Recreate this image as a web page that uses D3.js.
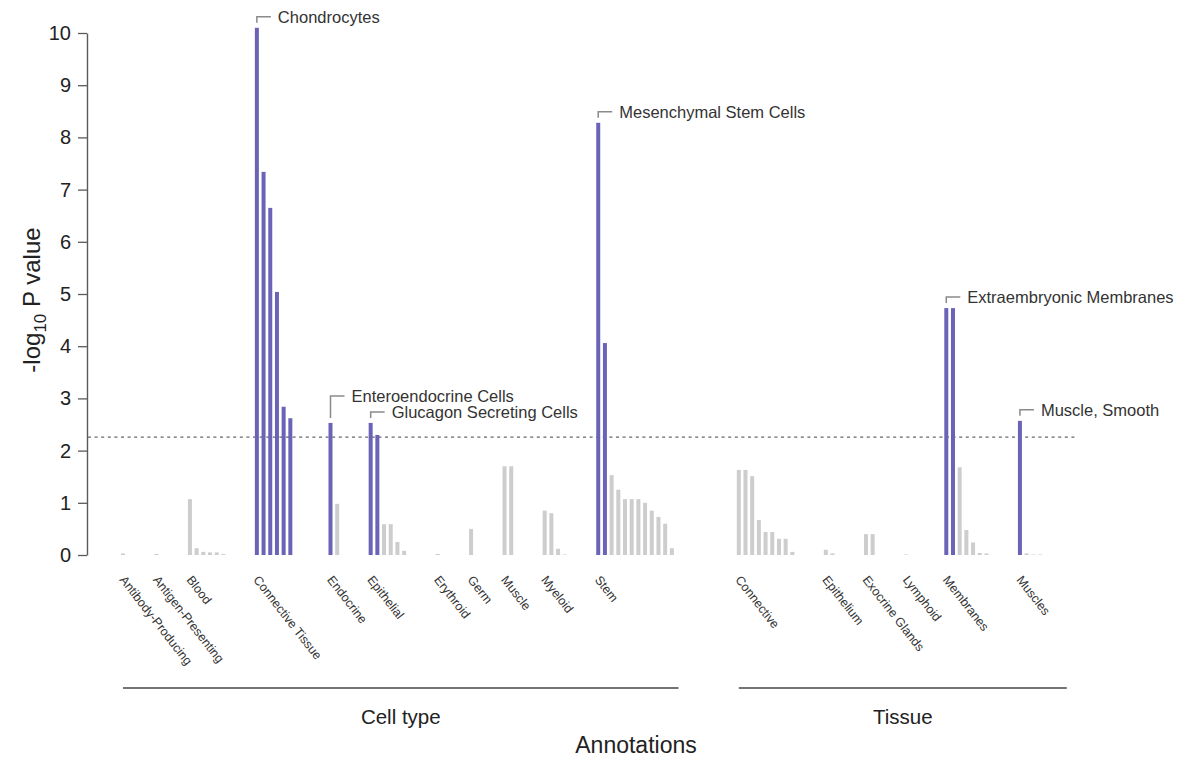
<!DOCTYPE html>
<html>
<head>
<meta charset="utf-8">
<script src="https://cdn.jsdelivr.net/npm/d3@7"></script>
<style>
  html, body { margin: 0; padding: 0; background: #fff; }
  svg { display: block; font-family: "Liberation Sans", Arial, Helvetica, sans-serif; }
</style>
</head>
<body>
<svg id="chart" width="1184" height="759"></svg>
<script>
// Enrichment of annotation terms, -log10 P per term, grouped by category
const cellTypeGroups = ["Antibody-Producing", "Antigen-Presenting", "Blood", "Connective Tissue",
  "Endocrine", "Epithelial", "Erythroid", "Germ", "Muscle", "Myeloid", "Stem"];
const cellTypeValues = [
  [0.03],
  [0.02],
  [1.07, 0.13, 0.06, 0.05, 0.05, 0.02],
  [10.1, 7.34, 6.65, 5.04, 2.84, 2.62, 0],
  [2.53, 0.98],
  [2.53, 2.3, 0.59, 0.59, 0.25, 0.08],
  [0.02],
  [0.5],
  [1.7, 1.7],
  [0.85, 0.8, 0.12, 0.01],
  [8.28, 4.06, 1.53, 1.25, 1.07, 1.07, 1.07, 1.0, 0.85, 0.73, 0.6, 0.13]
];
const tissueGroups = ["Connective", "Epithelium", "Exocrine Glands", "Lymphoid", "Membranes", "Muscles"];
const tissueValues = [
  [1.63, 1.63, 1.51, 0.67, 0.44, 0.44, 0.31, 0.31, 0.06],
  [0.1, 0.03],
  [0.4, 0.4],
  [0.01, 0],
  [4.73, 4.73, 1.68, 0.48, 0.24, 0.04, 0.03],
  [2.57, 0.03, 0.01, 0.01]
];
const sectionNames = ["Cell type", "Tissue"];

// Leading significant term of selected categories
const annotatedGroups = ["Connective Tissue", "Endocrine", "Epithelial", "Stem", "Membranes", "Muscles"];
const annotatedTerms = ["Chondrocytes", "Enteroendocrine Cells", "Glucagon Secreting Cells",
  "Mesenchymal Stem Cells", "Extraembryonic Membranes", "Muscle, Smooth"];

const significance = 2.26;   // -log10 of the significance cutoff
const yTicks = [0, 1, 2, 3, 4, 5, 6, 7, 8, 9, 10];

const blue = "#6b63b8", grey = "#cdcdcd", axisGrey = "#5a5a5a";

// ---- slot layout: bars sit on a common grid, groups separated by gaps ----
const groupGap = 4, sectionGap = 8;
const sections = [
  { name: sectionNames[0], groups: cellTypeGroups, values: cellTypeValues },
  { name: sectionNames[1], groups: tissueGroups, values: tissueValues }
];
const bars = [], groups = [];
let slot = 0;
sections.forEach((sec, si) => {
  sec.start = slot;
  sec.groups.forEach((g, gi) => {
    const vals = sec.values[gi];
    groups.push({ name: g, section: si, start: slot, values: vals });
    vals.forEach((v, k) => bars.push({ group: g, slot: slot + k, value: v, lead: k === 0 }));
    sec.last = slot + vals.length - 1;
    slot += vals.length + (gi < sec.groups.length - 1 ? groupGap : 0);
  });
  slot += sectionGap + 1;
});
const lastSlot = sections[sections.length - 1].last;

const svg = d3.select("#chart");
const x = d3.scaleLinear().domain([0, lastSlot]).range([123, 1040]);
const step = x(1) - x(0);
const y = d3.scaleLinear().domain([0, 10]).range([555, 33]);

// ---- y axis ----
const yAxis = svg.append("g")
  .attr("transform", "translate(87,0)")
  .call(d3.axisLeft(y).tickValues(yTicks).tickFormat(d3.format("d")).tickSize(9).tickSizeOuter(0).tickPadding(7));
yAxis.select(".domain").attr("stroke", axisGrey).attr("stroke-width", 1.4);
yAxis.selectAll(".tick line").attr("stroke", axisGrey).attr("stroke-width", 1.3);
yAxis.selectAll(".tick text").attr("fill", "#222").style("font-size", "20px")
  .style("font-family", "'Liberation Sans', Arial, sans-serif");

const yTitle = svg.append("text")
  .attr("transform", "translate(40,300) rotate(-90)")
  .attr("text-anchor", "middle")
  .attr("fill", "#222")
  .style("font-size", "24px");
yTitle.append("tspan").text("-log");
yTitle.append("tspan").attr("dy", 6).style("font-size", "17px").text("10");
yTitle.append("tspan").attr("dy", -6).text(" P value");

// ---- significance threshold ----
svg.append("line")
  .attr("x1", 88).attr("x2", x(lastSlot) + 35)
  .attr("y1", y(significance)).attr("y2", y(significance))
  .attr("stroke", "#666").attr("stroke-width", 1.3)
  .attr("stroke-dasharray", "3,3.6");

// ---- bars ----
svg.append("g").selectAll("rect")
  .data(bars.filter(d => d.value > 0))
  .join("rect")
  .attr("x", d => x(d.slot) - 2)
  .attr("width", 4)
  .attr("y", d => y(d.value))
  .attr("height", d => y(0) - y(d.value))
  .attr("fill", d => d.value >= significance ? blue : grey);

// ---- rotated category labels ----
svg.append("g").selectAll("text")
  .data(groups)
  .join("text")
  .attr("transform", d => `translate(${x(d.start) - 4},${580}) rotate(52)`)
  .attr("fill", "#333")
  .style("font-size", "12.5px")
  .text(d => d.name);

// ---- section rules and titles ----
sections.forEach((sec, si) => {
  const x1 = x(sec.start);
  const x2 = x(sec.last) + (si === sections.length - 1 ? 4 : 1) * step;
  svg.append("line")
    .attr("x1", x1).attr("x2", x2).attr("y1", 688).attr("y2", 688)
    .attr("stroke", "#444").attr("stroke-width", 1.6);
  svg.append("text")
    .attr("x", (x1 + x2) / 2).attr("y", 724)
    .attr("text-anchor", "middle").attr("fill", "#222")
    .style("font-size", "20.5px")
    .text(sec.name);
});

svg.append("text")
  .attr("x", 636).attr("y", 753)
  .attr("text-anchor", "middle").attr("fill", "#222")
  .style("font-size", "23px")
  .text("Annotations");

// ---- term call-outs ----
const calloutSize = "16.5px";
const callouts = annotatedGroups.map((g, i) => {
  const b = bars.find(d => d.group === g && d.lead);
  return { term: annotatedTerms[i], bx: x(b.slot), top: y(b.value), ly: y(b.value) - 11 };
});
// raise a call-out whose text would run into the next one
const measure = svg.append("text").style("font-size", calloutSize).attr("visibility", "hidden");
callouts.forEach(c => { measure.text(c.term); c.w = measure.node().getComputedTextLength(); });
measure.remove();
for (let i = callouts.length - 2; i >= 0; i--) {
  const a = callouts[i], b = callouts[i + 1];
  const ax2 = a.bx + 21 + a.w;
  if (ax2 > b.bx && Math.abs(a.ly - b.ly) < 16) a.ly = b.ly - 16;
}
const co = svg.append("g");
callouts.forEach(c => {
  co.append("path")
    .attr("d", `M${c.bx},${c.top - 5}V${c.ly}H${c.bx + 14}`)
    .attr("fill", "none").attr("stroke", "#8a8a8a").attr("stroke-width", 1.5);
  co.append("text")
    .attr("x", c.bx + 21).attr("y", c.ly)
    .attr("dy", "0.35em")
    .attr("fill", "#333")
    .style("font-size", calloutSize)
    .text(c.term);
});
</script>
</body>
</html>
